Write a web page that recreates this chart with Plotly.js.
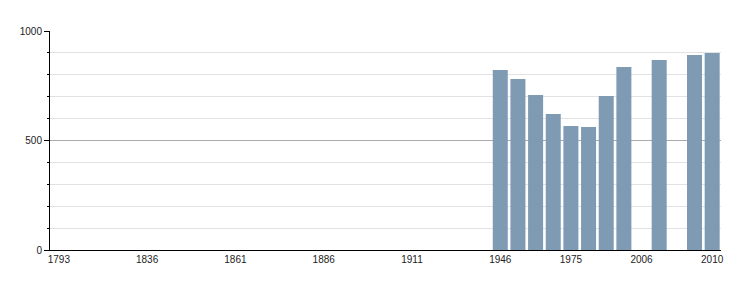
<!DOCTYPE html>
<html>
<head>
<meta charset="utf-8">
<script src="https://cdn.plot.ly/plotly-3.0.1.min.js"></script>
<style>html,body{margin:0;padding:0;background:#fff;}#chart{width:750px;height:300px;}</style>
</head>
<body>
<div id="chart"></div>
<script>
const years = ["1793","1800","1806","1821","1831","1836","1841","1846","1851","1856","1861","1866","1872","1876","1881","1886","1891","1896","1901","1906","1911","1921","1926","1931","1936","1946","1954","1962","1968","1975","1982","1990","1999","2006","2007","2008","2009","2010"];
const population = [null,null,null,null,null,null,null,null,null,null,null,null,null,null,null,null,null,null,null,null,null,null,null,null,null,822,781,708,621,566,562,703,836,null,868,null,890,900];
const tickYears = ["1793","1836","1861","1886","1911","1946","1975","2006","2010"];

const trace = {
  type: 'bar',
  x: years,
  y: population,
  marker: {color: '#7f9ab3', line: {width: 0}},
  hoverinfo: 'x+y'
};

const layout = {
  width: 750, height: 300,
  margin: {l: 50, r: 29, t: 30.5, b: 50, pad: 0},
  paper_bgcolor: '#fff', plot_bgcolor: '#fff',
  bargap: 0.15,
  showlegend: false,
  font: {family: 'Liberation Sans, Arial, sans-serif', size: 10, color: '#222'},
  xaxis: {
    type: 'category',
    categoryorder: 'array', categoryarray: years,
    range: [-0.5, years.length - 0.5],
    tickmode: 'array', tickvals: tickYears, ticktext: tickYears,
    ticks: '', showgrid: false, zeroline: false,
    showline: true, linecolor: '#000', linewidth: 1,
    tickfont: {size: 10, color: '#222'},
    fixedrange: true
  },
  yaxis: {
    range: [0, 1000], dtick: 500, tick0: 0,
    ticks: 'outside', ticklen: 5, tickcolor: '#000', tickwidth: 1,
    showgrid: true, gridcolor: '#aaaaaa', gridwidth: 1,
    zeroline: false,
    showline: true, linecolor: '#000', linewidth: 1,
    tickfont: {size: 10, color: '#222'},
    minor: {dtick: 100, ticks: 'outside', ticklen: 2, tickcolor: '#000', showgrid: true, gridcolor: '#e2e2e2', gridwidth: 1},
    fixedrange: true
  }
};

Plotly.newPlot('chart', [trace], layout, {displayModeBar: false, staticPlot: true});
</script>
</body>
</html>
